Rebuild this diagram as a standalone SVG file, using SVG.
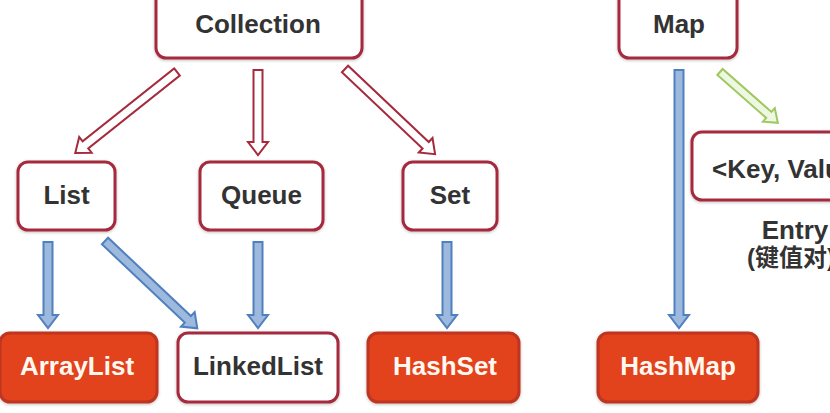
<svg xmlns="http://www.w3.org/2000/svg" width="830" height="413" viewBox="0 0 830 413">
<defs>
<filter id="sh" x="-20%" y="-20%" width="140%" height="140%">
<feDropShadow dx="0" dy="1" stdDeviation="1.5" flood-color="#000" flood-opacity="0.25"/>
</filter>
</defs>
<style>
.wb{fill:#fff;stroke:#A52A3C;stroke-width:3;filter:url(#sh)}
.rb{fill:#E2421C;stroke:#BE3420;stroke-width:3;filter:url(#sh)}
.t{font-family:"Liberation Sans","Noto Sans CJK SC",sans-serif;font-weight:bold;font-size:26px;text-anchor:middle}
.dk{fill:#333}
.wt{fill:#FFF8F0}
.ra{fill:#fff;stroke:#A52A3C;stroke-width:2;stroke-linejoin:miter}
.ba{fill:#9DB9DD;stroke:#5080C0;stroke-width:2}
.ga{fill:#EEF7E2;stroke:#9DC85E;stroke-width:2}
</style>
<rect width="830" height="413" fill="#fff"/>
<g id="connectors">
<path class="ra" transform="translate(177,72) rotate(51.5)" d="M-4.5,0H4.5V117H10L0,130L-10,117H-4.5Z"/>
<path class="ra" transform="translate(258,70)" d="M-4.5,0H4.5V72H10L0,85L-10,72H-4.5Z"/>
<path class="ra" transform="translate(345,69) rotate(-46.6)" d="M-4.5,0H4.5V111H10L0,124L-10,111H-4.5Z"/>
<path class="ba" transform="translate(48,242)" d="M-4.5,0H4.5V73H10L0,86L-10,73H-4.5Z"/>
<path class="ba" transform="translate(105,241) rotate(-46.6)" d="M-4.5,0H4.5V114H10L0,127L-10,114H-4.5Z"/>
<path class="ba" transform="translate(258,242)" d="M-4.5,0H4.5V73H10L0,86L-10,73H-4.5Z"/>
<path class="ba" transform="translate(447,242)" d="M-4.5,0H4.5V73H10L0,86L-10,73H-4.5Z"/>
<path class="ba" transform="translate(679,70)" d="M-4.5,0H4.5V245H10L0,258L-10,245H-4.5Z"/>
<path class="ga" transform="translate(720,72) rotate(-48.7)" d="M-4,0H4V65H9L0,77L-9,65H-4Z"/>
</g>
<g id="collection"><rect class="wb" x="156" y="-20" width="206" height="78" rx="10"/><text class="t dk" x="258" y="33">Collection</text></g>
<g id="map"><rect class="wb" x="619" y="-20" width="118" height="78" rx="10"/><text class="t dk" x="679" y="33">Map</text></g>
<g id="list"><rect class="wb" x="18" y="162" width="97" height="68" rx="10"/><text class="t dk" x="66.5" y="204">List</text></g>
<g id="queue"><rect class="wb" x="200" y="162" width="123" height="68" rx="10"/><text class="t dk" x="261.5" y="204">Queue</text></g>
<g id="set"><rect class="wb" x="403" y="162" width="94" height="68" rx="10"/><text class="t dk" x="450" y="204">Set</text></g>
<g id="keyvalue"><rect class="wb" x="692" y="132" width="206" height="68" rx="10"/><text class="t dk" x="712" y="178" style="text-anchor:start">&lt;Key, Value&gt;</text></g>
<g id="entry"><text class="t dk" x="795" y="239">Entry</text><text class="t dk" x="747" y="266" style="font-size:24px;text-anchor:start">(键值对)</text></g>
<g id="arraylist"><rect class="rb" x="0" y="333" width="157" height="69" rx="10"/><text class="t wt" x="77" y="375">ArrayList</text></g>
<g id="linkedlist"><rect class="wb" x="178" y="333" width="160" height="69" rx="10"/><text class="t dk" x="258" y="375">LinkedList</text></g>
<g id="hashset"><rect class="rb" x="368" y="333" width="151" height="69" rx="10"/><text class="t wt" x="445" y="375">HashSet</text></g>
<g id="hashmap"><rect class="rb" x="598" y="333" width="160" height="69" rx="10"/><text class="t wt" x="678" y="375">HashMap</text></g>
</svg>
